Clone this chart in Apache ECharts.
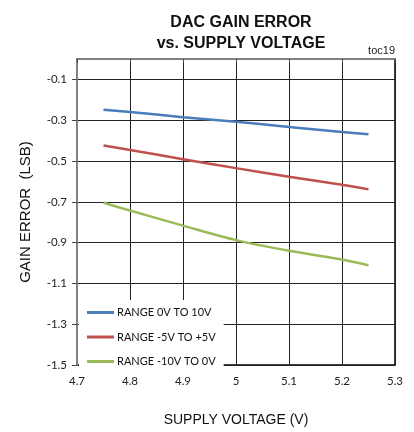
<!DOCTYPE html>
<html>
<head>
<meta charset="utf-8">
<script src="https://cdn.jsdelivr.net/npm/echarts@6/dist/echarts.min.js"></script>
<style>html,body{margin:0;padding:0;background:#fff}#c{width:414px;height:432px}</style>
</head>
<body>
<div id="c"></div>
<script>
const voltages = [4.75, 4.8, 4.9, 5.0, 5.1, 5.2, 5.25];
const range0to10 = [-0.249, -0.26, -0.285, -0.308, -0.333, -0.358, -0.369];
const rangePm5 = [-0.424, -0.446, -0.491, -0.535, -0.577, -0.616, -0.639];
const rangeNeg10to0 = [-0.705, -0.743, -0.817, -0.888, -0.940, -0.983, -1.011];
const seriesNames = ['RANGE 0V TO 10V', 'RANGE -5V TO +5V', 'RANGE -10V TO 0V'];
const seriesColors = ['#4A7EBB', '#C0504D', '#9BBB59'];
const seriesData = [range0to10, rangePm5, rangeNeg10to0];

const chart = echarts.init(document.getElementById('c'));
const font = 'Liberation Sans Narrow, Arial Narrow, Liberation Sans, sans-serif';
const tickFont = 'Lato, Open Sans, sans-serif';
chart.setOption({
  animation: false,
  title: {
    text: 'DAC GAIN ERROR\nvs. SUPPLY VOLTAGE',
    left: 236, textAlign: 'center', top: 7,
    textStyle: {fontFamily: font, fontSize: 16, fontWeight: 'bold', color: '#111', lineHeight: 21}
  },
  graphic: [{
    type: 'text', right: 19, top: 45,
    style: {text: 'toc19', font: '11px Liberation Sans Narrow, sans-serif', fill: '#222'}
  }],
  grid: {left: 77, right: 19, top: 59, bottom: 56, show: true, borderColor: '#000', borderWidth: 1.5},
  legend: {
    orient: 'vertical', left: 79, top: 300,
    padding: [6, 8, 6, 8], backgroundColor: '#fff',
    icon: 'rect', itemWidth: 27, itemHeight: 3, itemGap: 11.5,
    textStyle: {fontFamily: tickFont, fontSize: 11, color: '#111', lineHeight: 13, padding: [0, 0, 0, -2]},
    data: seriesNames
  },
  xAxis: {
    type: 'value', min: 4.7, max: 5.3, interval: 0.1,
    name: 'SUPPLY VOLTAGE (V)', nameLocation: 'middle', nameGap: 48,
    nameTextStyle: {fontFamily: font, fontSize: 14, color: '#111'},
    axisLine: {lineStyle: {color: '#808080', width: 2}},
    axisTick: {show: true, length: 4, lineStyle: {color: '#444'}},
    axisLabel: {fontFamily: tickFont, fontSize: 11.5, color: '#222', margin: 10,
      formatter: v => String(Math.round(v * 10) / 10)},
    splitLine: {show: true, lineStyle: {color: '#222', width: 1}}
  },
  yAxis: {
    type: 'value', min: -1.5, max: 0, interval: 0.2,
    name: 'GAIN ERROR  (LSB)', nameLocation: 'middle', nameGap: 44,
    nameTextStyle: {fontFamily: font, fontSize: 15, color: '#111'},
    axisLine: {show: true, lineStyle: {color: '#808080', width: 2}},
    axisTick: {show: true, length: 5, lineStyle: {color: '#444'}},
    axisLabel: {fontFamily: tickFont, fontSize: 11.5, color: '#222', margin: 10, showMaxLabel: false,
      formatter: v => (Math.abs(v) < 1e-9 ? '' : (Math.round(v * 10) / 10).toFixed(1))},
    splitLine: {show: true, lineStyle: {color: '#222', width: 1}}
  },
  series: seriesNames.map((n, i) => ({
    name: n, type: 'line', smooth: 0.3, symbol: 'none',
    data: voltages.map((v, j) => [v, seriesData[i][j]]),
    lineStyle: {color: seriesColors[i], width: 2.5},
    itemStyle: {color: seriesColors[i]}
  }))
});
</script>
</body>
</html>
